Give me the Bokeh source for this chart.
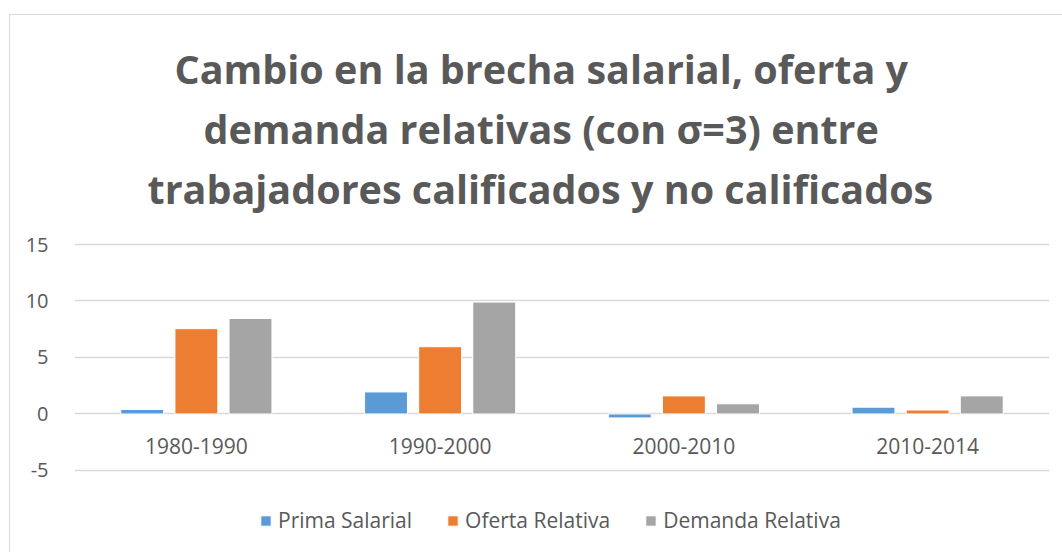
from bokeh.plotting import figure
from bokeh.models import FactorRange, FixedTicker, Legend, LegendItem, Title, ColumnDataSource
from bokeh.transform import dodge
from bokeh.core.properties import value
from bokeh.embed import file_html
from bokeh.resources import INLINE

categories = ["1980-1990", "1990-2000", "2000-2010", "2010-2014"]
prima_salarial = [0.4, 1.95, -0.35, 0.6]
oferta_relativa = [7.55, 5.95, 1.6, 0.35]
demanda_relativa = [8.45, 9.9, 0.9, 1.6]
series_names = ["Prima Salarial", "Oferta Relativa", "Demanda Relativa"]
colors = ["#5B9BD5", "#ED7D31", "#A5A5A5"]
y_ticks = [-5, 0, 5, 10, 15]
y_tick_labels = {-5: "-5", 0: "0", 5: "5", 10: "10", 15: "15"}
title_lines = ["Cambio en la brecha salarial, oferta y",
               "demanda relativas (con σ=3) entre",
               "trabajadores calificados y no calificados"]

TXT = "#595959"
FONT = "Open Sans"

src = ColumnDataSource(dict(cat=categories, a=prima_salarial, b=oferta_relativa,
                            c=demanda_relativa, zero=[0] * len(categories)))

# frame spans beyond the -5..15 gridlines so title gap and legend fit inside the chart area
p = figure(width=1053, height=538, x_range=FactorRange(*categories, range_padding=0),
           y_range=(-12.35, 17.39), output_backend="svg", toolbar_location=None,
           min_border_left=64, min_border_right=14, min_border_bottom=0, min_border_top=202)
p.margin = (14, 0, 0, 9)
p.styles = {"border-left": "1px solid #D9D9D9", "border-top": "1px solid #D9D9D9"}
p.outline_line_color = None
p.background_fill_color = "white"

title_offsets = [100, 129, 73]
for line, off in reversed(list(zip(title_lines, title_offsets))):
    p.add_layout(Title(text=line, align="left", offset=off, text_font=FONT,
                       text_font_size="39.5px", text_font_style="bold", text_color=TXT,
                       standoff=4), "above")

keys = ["a", "b", "c"]
offsets = [-0.222, 0.0, 0.222]
renderers = []
for k, off, col in zip(keys, offsets, colors):
    r = p.vbar(x=dodge("cat", off, range=p.x_range), top=k, bottom=0, width=0.176,
               source=src, fill_color=col, line_color="white", line_width=1)
    renderers.append(r)

p.text(x="cat", y="zero", text="cat", source=src, y_offset=32, text_align="center",
       text_baseline="middle", text_font=value(FONT), text_font_size="21px", text_color=TXT)

p.xaxis.visible = False
p.xgrid.grid_line_color = None
p.ygrid.grid_line_color = "#D9D9D9"
p.ygrid.grid_line_width = 1.5
p.yaxis.ticker = FixedTicker(ticks=y_ticks)
p.yaxis.major_label_overrides = y_tick_labels
p.yaxis.axis_line_color = None
p.yaxis.major_tick_line_color = None
p.yaxis.minor_tick_line_color = None
p.yaxis.major_label_text_font = FONT
p.yaxis.major_label_text_font_size = "20px"
p.yaxis.major_label_text_color = TXT
p.yaxis.major_label_standoff = 20

legend = Legend(items=[LegendItem(label=n, renderers=[r]) for n, r in zip(series_names, renderers)],
                orientation="horizontal", location=(185, 19), label_text_font=FONT,
                label_text_font_size="21px", label_text_color=TXT, glyph_width=13, glyph_height=13,
                label_height=24, spacing=34, label_standoff=6, border_line_color=None,
                background_fill_alpha=0, padding=0, margin=0)
p.add_layout(legend, "center")

open("out.html", "w").write(file_html(p, INLINE))
